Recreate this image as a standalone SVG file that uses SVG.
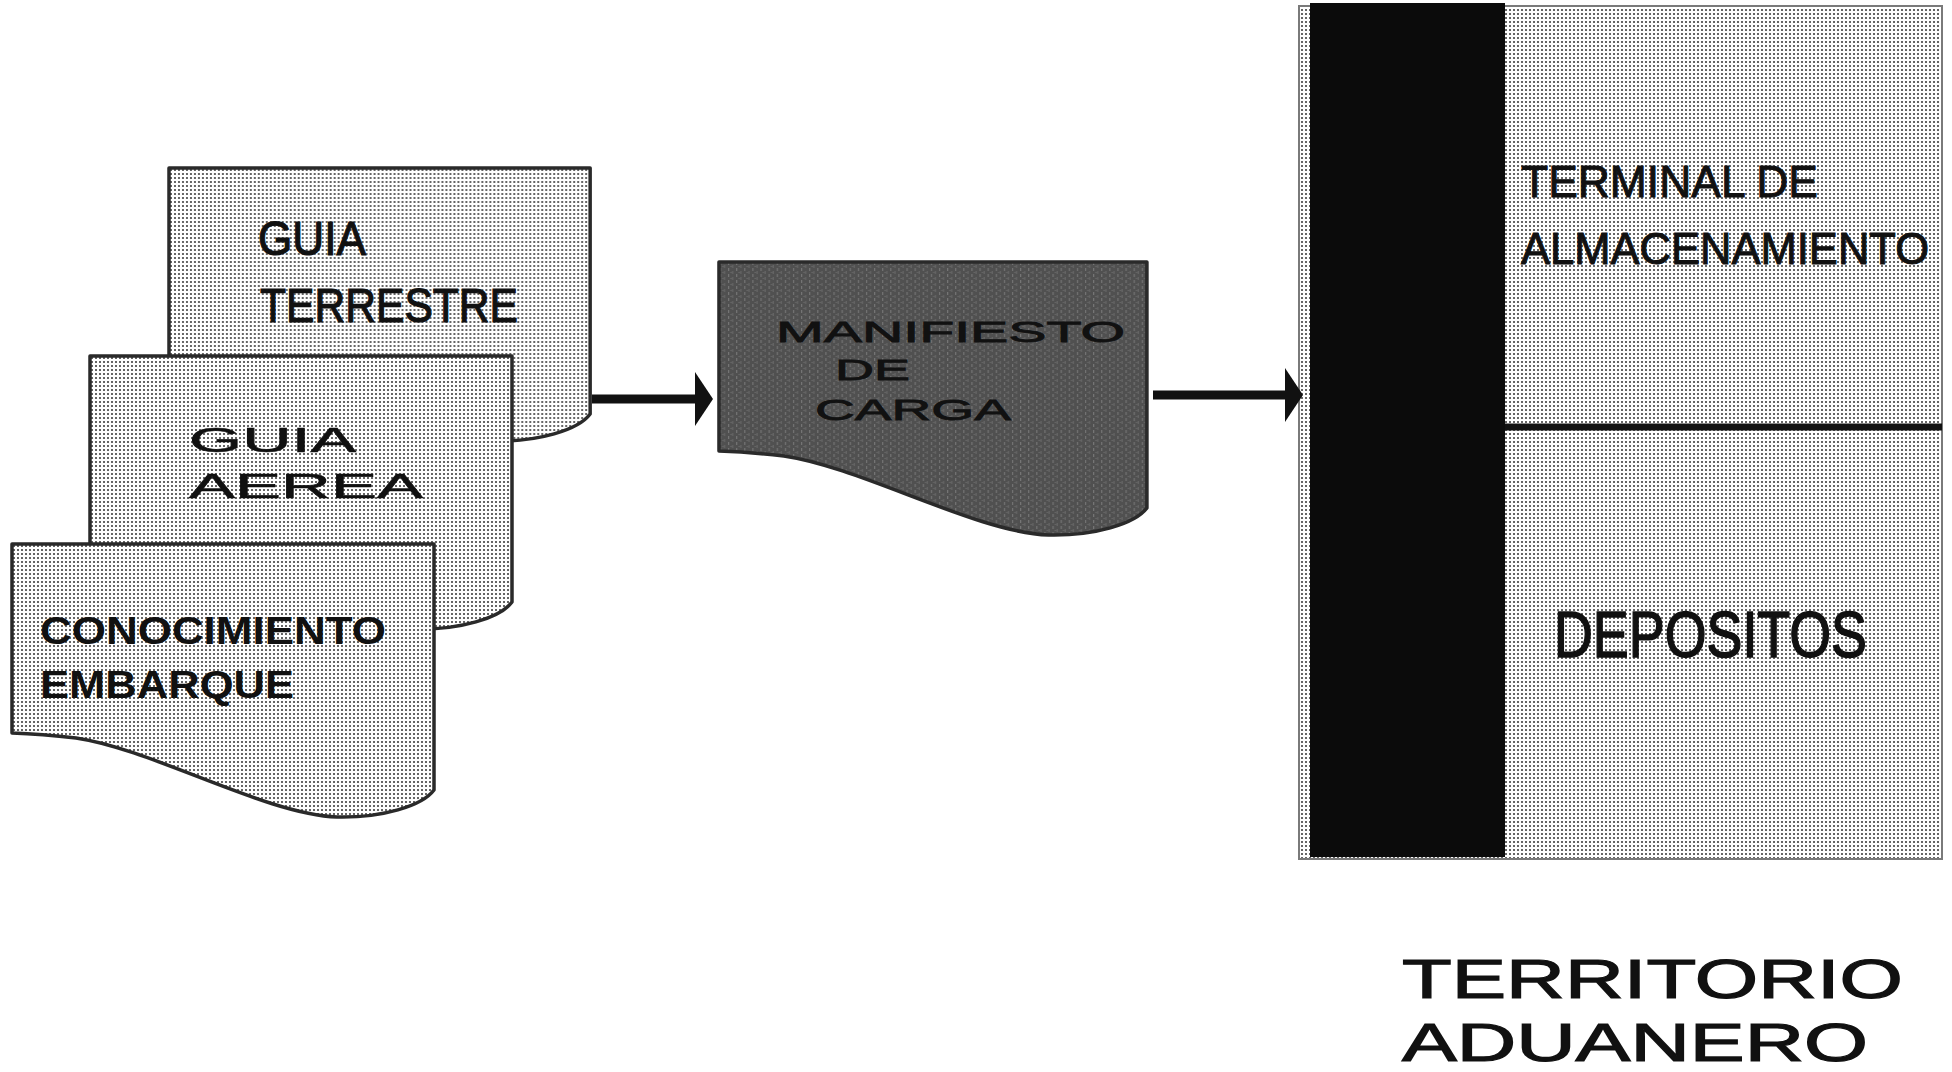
<svg xmlns="http://www.w3.org/2000/svg" xmlns:xlink="http://www.w3.org/1999/xlink" width="1952" height="1072" viewBox="0 0 1952 1072">
<style>
.doc{stroke:#2a2a2a;stroke-width:3.5;stroke-linejoin:round}
.t{font-family:"Liberation Sans",Arial,sans-serif;fill:#111;stroke:#111}
.s06{stroke-width:0.6}
.s08{stroke-width:0.8}
.s10{stroke-width:1}
.s12{stroke-width:1.2}
.s15{stroke-width:1.5}
.b{font-weight:bold;stroke-width:0}
</style>
<defs>
<pattern id="dots" width="4" height="4" patternUnits="userSpaceOnUse">
<rect width="4" height="4" fill="#ffffff"/>
<rect x="1" y="1" width="2" height="2" fill="#666666"/>
</pattern>
<pattern id="dark" width="8" height="6" patternUnits="userSpaceOnUse">
<rect width="8" height="6" fill="#505050"/>
<rect x="1" y="0" width="1" height="3" fill="#7a7a7a"/>
<rect x="5" y="3" width="1" height="3" fill="#6a6a6a"/>
<rect x="3" y="4" width="2" height="1" fill="#646464"/>
</pattern>
<path id="docShape" d="M0,0 H422 V246 C410,262 370,274 325,273 C255,271 140,205 64,194 Q30,190 0,189 Z"/>
<marker id="ah" markerWidth="4" markerHeight="6" refX="0" refY="3" orient="auto" markerUnits="strokeWidth">
<path d="M0,0 L2,3 L0,6 Z" fill="#111"/>
</marker>
</defs>
<rect width="1952" height="1072" fill="#ffffff"/>

<g id="guia-terrestre">
<use xlink:href="#docShape" class="doc" fill="url(#dots)" transform="translate(169,168) scale(0.998,1)"/>
<text class="t s12" x="258" y="255" font-size="48" textLength="108" lengthAdjust="spacingAndGlyphs">GUIA</text>
<text class="t s12" x="260" y="322" font-size="48" textLength="258" lengthAdjust="spacingAndGlyphs">TERRESTRE</text>
</g>

<g id="guia-aerea">
<use xlink:href="#docShape" class="doc" fill="url(#dots)" transform="translate(90,356)"/>
<text class="t s06" x="189" y="452" font-size="35" textLength="167" lengthAdjust="spacingAndGlyphs">GUIA</text>
<text class="t s06" x="189" y="498" font-size="35" textLength="234" lengthAdjust="spacingAndGlyphs">AEREA</text>
</g>

<g id="conocimiento-embarque">
<use xlink:href="#docShape" class="doc" fill="url(#dots)" transform="translate(12,544)"/>
<text class="t b" x="40" y="644" font-size="38" textLength="346" lengthAdjust="spacingAndGlyphs">CONOCIMIENTO</text>
<text class="t b" x="40" y="698" font-size="38" textLength="254" lengthAdjust="spacingAndGlyphs">EMBARQUE</text>
</g>

<g id="manifiesto-de-carga">
<use xlink:href="#docShape" class="doc" fill="url(#dark)" transform="translate(719,262) scale(1.014,1)"/>
<text class="t s08" x="776" y="342" font-size="30" textLength="349" lengthAdjust="spacingAndGlyphs">MANIFIESTO</text>
<text class="t s08" x="835" y="380" font-size="30" textLength="75" lengthAdjust="spacingAndGlyphs">DE</text>
<text class="t s08" x="815" y="420" font-size="30" textLength="196" lengthAdjust="spacingAndGlyphs">CARGA</text>
</g>

<g id="territorio-aduanero">
<rect x="1299" y="6" width="643" height="853" fill="url(#dots)" stroke="#7a7a7a" stroke-width="2"/>
<rect x="1310" y="3" width="195" height="854" fill="#0b0b0b"/>
<line x1="1505" y1="427" x2="1942" y2="427" stroke="#111" stroke-width="7"/>
<text class="t s10" x="1521" y="197" font-size="45" textLength="297" lengthAdjust="spacingAndGlyphs">TERMINAL DE</text>
<text class="t s10" x="1521" y="264" font-size="45" textLength="408" lengthAdjust="spacingAndGlyphs">ALMACENAMIENTO</text>
<text class="t s15" x="1554" y="657" font-size="64" textLength="313" lengthAdjust="spacingAndGlyphs">DEPOSITOS</text>
<text class="t s12" x="1402" y="998" font-size="55" textLength="501" lengthAdjust="spacingAndGlyphs">TERRITORIO</text>
<text class="t s12" x="1402" y="1061" font-size="53" textLength="466" lengthAdjust="spacingAndGlyphs">ADUANERO</text>
</g>

<g id="connectors" stroke="#111" stroke-width="9" fill="none">
<line x1="592" y1="399" x2="695" y2="399" marker-end="url(#ah)"/>
<line x1="1153" y1="395" x2="1285" y2="395" marker-end="url(#ah)"/>
</g>
</svg>
